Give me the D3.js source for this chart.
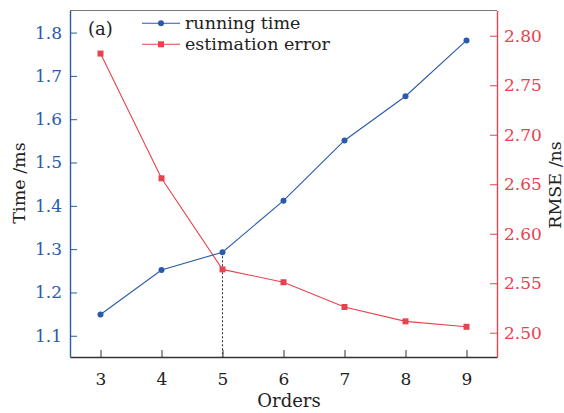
<!DOCTYPE html>
<html>
<head>
<meta charset="utf-8">
<script src="https://cdn.jsdelivr.net/npm/d3@7"></script>
<style>
  html, body { margin: 0; padding: 0; background: #fff; }
  svg { display: block; font-family: "DejaVu Serif", "Liberation Serif", serif; }
</style>
</head>
<body>
<svg id="chart" width="564" height="413"></svg>
<script>
// Model order on the x axis
const orders = [3, 4, 5, 6, 7, 8, 9];
// Running time (ms), left axis
const runningTime = [1.149, 1.252, 1.293, 1.412, 1.551, 1.653, 1.782];
// Estimation error, RMSE (ns), right axis
const rmse = [2.782, 2.656, 2.564, 2.551, 2.526, 2.5115, 2.506];
// Tick values
const xTicks = [3, 4, 5, 6, 7, 8, 9];
const leftTicks = [1.1, 1.2, 1.3, 1.4, 1.5, 1.6, 1.7, 1.8];
const rightTicks = [2.50, 2.55, 2.60, 2.65, 2.70, 2.75, 2.80];
// Order whose point is marked with a dotted drop line
const markedOrder = 5;

const BLUE = "#2a5aa9";
const RED = "#e8424e";

const svg = d3.select("#chart");
const m = { left: 70, right: 497, top: 10.5, bottom: 357 };

const x = d3.scaleLinear().domain([2.5, 9.5]).range([m.left, m.right]);
const yL = d3.scaleLinear().domain([1.051, 1.851]).range([m.bottom, m.top]);
const yR = d3.scaleLinear().domain([2.4755, 2.8255]).range([m.bottom, m.top]);

const tickLen = 7;
const tickFont = 17;

// Top border
svg.append("line")
  .attr("x1", m.left).attr("x2", m.right)
  .attr("y1", m.top).attr("y2", m.top)
  .attr("stroke", "#777").attr("stroke-width", 1.2);

// Bottom axis
const gx = svg.append("g").attr("transform", `translate(0,${m.bottom})`)
  .call(d3.axisBottom(x).tickValues(xTicks).tickSizeInner(-tickLen).tickSizeOuter(0).tickPadding(tickLen + 9).tickFormat(d3.format("d")));
gx.select(".domain").attr("stroke", "#333").attr("stroke-width", 1.4);
gx.selectAll(".tick line").attr("stroke", "#333");
gx.selectAll("text").attr("fill", "#222").attr("font-size", tickFont).attr("font-family", "DejaVu Serif");

// Left axis
const gl = svg.append("g").attr("transform", `translate(${m.left},0)`)
  .call(d3.axisLeft(yL).tickValues(leftTicks).tickSizeInner(-tickLen).tickSizeOuter(0).tickPadding(8).tickFormat(d3.format(".1f")));
gl.select(".domain").attr("stroke", BLUE).attr("stroke-width", 1.4);
gl.selectAll(".tick line").attr("stroke", BLUE);
gl.selectAll("text").attr("fill", BLUE).attr("font-size", tickFont).attr("font-family", "DejaVu Serif");

// Right axis
const gr = svg.append("g").attr("transform", `translate(${m.right},0)`)
  .call(d3.axisRight(yR).tickValues(rightTicks).tickSizeInner(-tickLen).tickSizeOuter(0).tickPadding(7).tickFormat(d3.format(".2f")));
gr.select(".domain").attr("stroke", RED).attr("stroke-width", 1.4);
gr.selectAll(".tick line").attr("stroke", RED);
gr.selectAll("text").attr("fill", RED).attr("font-size", tickFont).attr("font-family", "DejaVu Serif");

// Axis titles
svg.append("text")
  .attr("x", 289).attr("y", 407)
  .attr("text-anchor", "middle").attr("font-size", 18).attr("fill", "#222")
  .text("Orders");
svg.append("text")
  .attr("transform", "translate(25,183) rotate(-90)")
  .attr("text-anchor", "middle").attr("font-size", 17.5).attr("fill", "#222")
  .text("Time /ms");
svg.append("text")
  .attr("transform", "translate(561,185) rotate(-90)")
  .attr("text-anchor", "middle").attr("font-size", 17.5).attr("fill", "#222")
  .text("RMSE /ns");

// Dotted drop line at the marked order
const mi = orders.indexOf(markedOrder);
svg.append("line")
  .attr("x1", x(markedOrder)).attr("x2", x(markedOrder))
  .attr("y1", yL(runningTime[mi])).attr("y2", m.bottom)
  .attr("stroke", "#333").attr("stroke-width", 1.1)
  .attr("stroke-dasharray", "2,2");

// Series
const lineL = d3.line().x((d, i) => x(orders[i])).y(d => yL(d));
const lineR = d3.line().x((d, i) => x(orders[i])).y(d => yR(d));

svg.append("path").datum(rmse).attr("d", lineR)
  .attr("fill", "none").attr("stroke", RED).attr("stroke-width", 1.1);
svg.append("g").selectAll("rect").data(rmse).join("rect")
  .attr("x", (d, i) => x(orders[i]) - 3).attr("y", d => yR(d) - 3)
  .attr("width", 6).attr("height", 6).attr("fill", RED);

svg.append("path").datum(runningTime).attr("d", lineL)
  .attr("fill", "none").attr("stroke", BLUE).attr("stroke-width", 1.1);
svg.append("g").selectAll("circle").data(runningTime).join("circle")
  .attr("cx", (d, i) => x(orders[i])).attr("cy", d => yL(d))
  .attr("r", 3).attr("fill", BLUE);

// Panel label
svg.append("text").attr("x", 88).attr("y", 35)
  .attr("font-size", 18).attr("fill", "#222").text("(a)");

// Legend
const legend = [
  { label: "running time", color: BLUE, shape: "circle", y: 23.3 },
  { label: "estimation error", color: RED, shape: "square", y: 44.3 }
];
const lg = svg.append("g");
legend.forEach(e => {
  lg.append("line").attr("x1", 142).attr("x2", 180).attr("y1", e.y).attr("y2", e.y)
    .attr("stroke", e.color).attr("stroke-width", 1.1);
  if (e.shape === "circle") {
    lg.append("circle").attr("cx", 161).attr("cy", e.y).attr("r", 3).attr("fill", e.color);
  } else {
    lg.append("rect").attr("x", 158).attr("y", e.y - 3).attr("width", 6).attr("height", 6).attr("fill", e.color);
  }
  lg.append("text").attr("x", 185).attr("y", e.y + 6)
    .attr("font-size", 17.5).attr("fill", "#222").text(e.label);
});
</script>
</body>
</html>
